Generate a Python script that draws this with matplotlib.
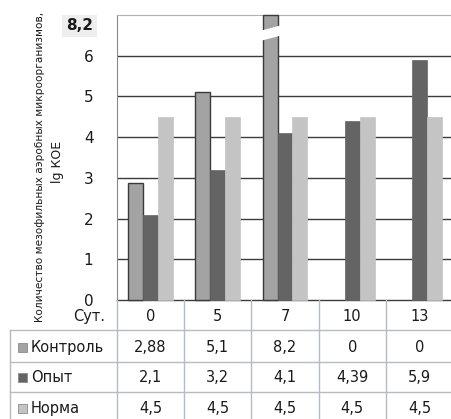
import matplotlib
matplotlib.use("Agg")
import matplotlib.pyplot as plt
from matplotlib.transforms import blended_transform_factory
from matplotlib.lines import Line2D
from matplotlib.patches import Rectangle, Polygon

# Data
days = ["0", "5", "7", "10", "13"]
series_names = ["Контроль", "Опыт", "Норма"]
control = [2.88, 5.1, 8.2, 0, 0]
experiment = [2.1, 3.2, 4.1, 4.39, 5.9]
norm = [4.5, 4.5, 4.5, 4.5, 4.5]
control_labels = ["2,88", "5,1", "8,2", "0", "0"]
experiment_labels = ["2,1", "3,2", "4,1", "4,39", "5,9"]
norm_labels = ["4,5", "4,5", "4,5", "4,5", "4,5"]
y_ticks = [0, 1, 2, 3, 4, 5, 6]
y_break_label = "8,2"
y_max = 7

colors = ["#a3a3a3", "#646464", "#c4c4c4"]
edges = ["#3a3a3a", "#646464", "#c4c4c4"]

W, H = 451, 419
fig = plt.figure(figsize=(W / 100, H / 100), dpi=100)


def fx(x):
    return x / W


def fy(y):
    return 1 - y / H


ax_left, ax_right, ax_top, ax_bottom = 117, 453, 15, 300
ax = fig.add_axes([fx(ax_left), fy(ax_bottom), fx(ax_right - ax_left),
                   (ax_bottom - ax_top) / H])

n = len(days)
xs = list(range(n))
bw = 0.223
offsets = [-bw, 0, bw]
all_series = [control, experiment, norm]

for s, (vals, off) in enumerate(zip(all_series, offsets)):
    shown = [min(v, y_max) for v in vals]
    lw = [(1.0 if s == 0 else 0.5) if v > 0 else 0 for v in vals]
    ax.bar([x + off for x in xs], shown, width=bw, color=colors[s],
           edgecolor=edges[s], linewidth=lw, zorder=3, clip_on=False)

# Break mark on the bar that exceeds the axis
for i, v in enumerate(control):
    if v > y_max:
        x0 = i + offsets[0] - bw / 2 - 0.06
        x1 = i + offsets[0] + bw / 2 + 0.06
        brk = Polygon([[x0, 6.35], [x1, 6.5], [x1, 6.75], [x0, 6.6]],
                      closed=True, facecolor="white", edgecolor="none",
                      zorder=4)
        ax.add_patch(brk)

ax.set_xlim(-0.5, n - 0.5)
ax.set_ylim(0, y_max)
ax.set_yticks(y_ticks)
ax.set_yticklabels([str(t) for t in y_ticks], fontsize=11, color="#1a1a1a")
ax.tick_params(axis="y", length=0, pad=17)
ax.set_xticks([])
for t in y_ticks[1:]:
    ax.axhline(t, color="#3c3c3c", linewidth=1.0, zorder=1)
ax.spines["right"].set_visible(False)
ax.spines["top"].set_color("#b0b0b0")
ax.spines["left"].set_color("#8a8a8a")
ax.spines["bottom"].set_color("#3c3c3c")
ax.spines["bottom"].set_linewidth(1.0)

# Label for the broken top of the axis
ax.text(fx(93), fy(26), y_break_label, transform=fig.transFigure,
        ha="right", va="center", fontsize=11, fontweight="bold",
        color="#1a1a1a",
        bbox=dict(boxstyle="square,pad=0.25", facecolor="#eeeeee",
                  edgecolor="none"))

# Y axis title
fig.text(fx(40), fy(167), "Количество мезофильных аэробных микроорганизмов,",
         rotation=90, ha="center", va="center", fontsize=7.6,
         color="#1a1a1a")
fig.text(fx(58), fy(162), "lg КОЕ", rotation=90, ha="center", va="center",
         fontsize=9, color="#1a1a1a")

# Data table under the chart
tr = blended_transform_factory(ax.transData, fig.transFigure)
line_c = "#b4bcc4"
row_lines = [330, 362, 392]
for y in row_lines:
    fig.add_artist(Line2D([fx(10), 1], [fy(y), fy(y)], color=line_c,
                          linewidth=1.0, transform=fig.transFigure))
fig.add_artist(Line2D([fx(10), fx(10)], [fy(330), 0], color=line_c,
                      linewidth=1.0, transform=fig.transFigure))
for i in range(n + 1):
    fig.add_artist(Line2D([i - 0.5, i - 0.5], [fy(300), 0], color=line_c,
                          linewidth=1.0, transform=tr))

fig.text(fx(105), fy(316), "Сут.", ha="right", va="center", fontsize=10.5,
         color="#1a1a1a")
for i, d in enumerate(days):
    fig.text(i, fy(316), d, transform=tr, ha="center", va="center",
             fontsize=10.5, color="#1a1a1a")

row_y = [347, 377, 408]
row_vals = [control_labels, experiment_labels, norm_labels]
for r, name in enumerate(series_names):
    y = row_y[r]
    fig.add_artist(Rectangle((fx(18), fy(y) - 4.5 / H), 9 / W, 9 / H,
                             facecolor=colors[r], edgecolor="#8a8a8a",
                             linewidth=0.6, transform=fig.transFigure))
    fig.text(fx(31), fy(y), name, ha="left", va="center", fontsize=10.5,
             color="#1a1a1a")
    for i, lab in enumerate(row_vals[r]):
        fig.text(i, fy(y), lab, transform=tr, ha="center", va="center",
                 fontsize=10.5, color="#1a1a1a")

fig.savefig("out.png", dpi=100, facecolor="white")
